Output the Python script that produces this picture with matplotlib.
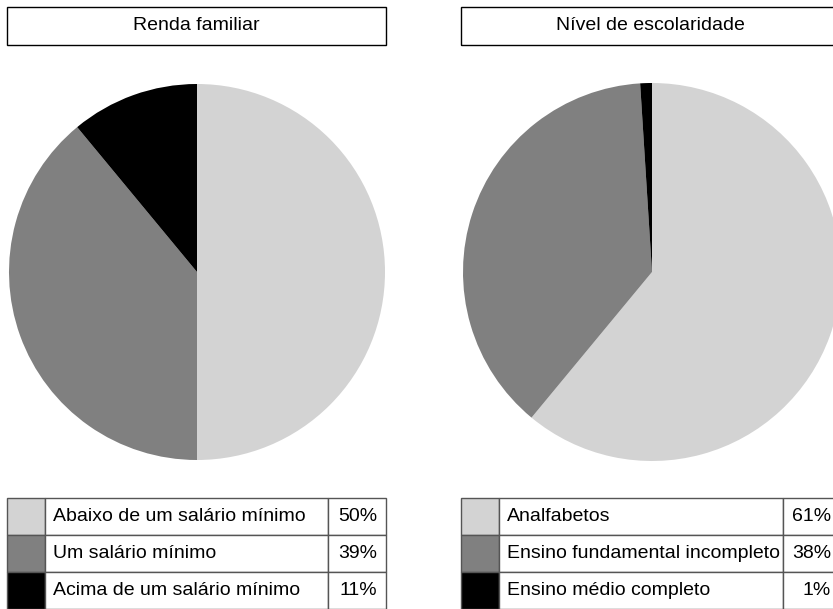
import matplotlib.pyplot as plt
from matplotlib.patches import Rectangle

# data
titles = ['Renda familiar', 'Nível de escolaridade']
renda_labels = ['Abaixo de um salário mínimo', 'Um salário mínimo', 'Acima de um salário mínimo']
renda_values = [50, 39, 11]
escol_labels = ['Analfabetos', 'Ensino fundamental incompleto', 'Ensino médio completo']
escol_values = [61, 38, 1]
slice_colors = ['#d3d3d3', '#808080', '#000000']

plt.rcParams['font.family'] = ['Liberation Sans', 'DejaVu Sans']

W, H = 833, 609
fig = plt.figure(figsize=(W / 100, H / 100), dpi=100)
ax = fig.add_axes([0, 0, 1, 1])
ax.set_xlim(0, W)
ax.set_ylim(0, H)
ax.set_aspect('equal')
ax.axis('off')

def y(p):
    # pixel row -> data y
    return H - p

# (box left, box right, pie cx, pie r, color col end, pct col start)
panels = [
    (7, 386, 197, 188, 45, 328),
    (461, 840, 652, 189, 499, 783),
]
datasets = [(renda_labels, renda_values), (escol_labels, escol_values)]

row_top = 498
row_h = 37

for (x0, x1, cx, r, c1, c2), title, (labels, values) in zip(panels, titles, datasets):
    # title box
    ax.add_patch(Rectangle((x0, y(45)), x1 - x0, 38, fill=False, edgecolor='black', lw=1))
    ax.text((x0 + x1) / 2, y(26), title, ha='center', va='center', fontsize=14)

    # pie
    ax.pie(values, colors=slice_colors, startangle=90, counterclock=False,
           center=(cx, y(272)), radius=r, frame=True,
           wedgeprops=dict(linewidth=0))

    # legend table
    for i, (lab, v) in enumerate(zip(labels, values)):
        top = row_top + i * row_h
        ax.add_patch(Rectangle((x0, y(top + row_h)), c1 - x0, row_h,
                               facecolor=slice_colors[i], edgecolor='#555555', lw=1))
        ax.add_patch(Rectangle((c1, y(top + row_h)), c2 - c1, row_h,
                               facecolor='white', edgecolor='#555555', lw=1))
        ax.add_patch(Rectangle((c2, y(top + row_h)), x1 - c2, row_h,
                               facecolor='white', edgecolor='#555555', lw=1))
        ax.text(c1 + 8, y(top + row_h / 2), lab, ha='left', va='center', fontsize=14)
        ax.text(x1 - 9, y(top + row_h / 2), f'{v}%', ha='right', va='center', fontsize=14)

ax.set_xlim(0, W)
ax.set_ylim(0, H)
ax.axis('off')

fig.savefig('out.png', dpi=100)
